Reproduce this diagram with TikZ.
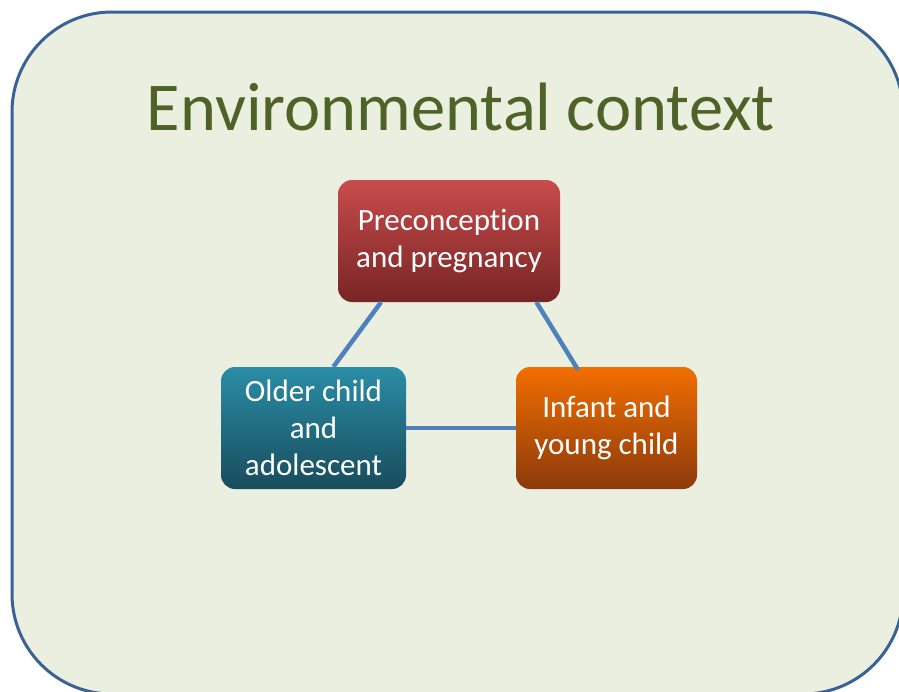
\documentclass[tikz,border=0pt]{standalone}
\usepackage{fontspec}
\setmainfont{Carlito}[Ligatures=NoCommon]
\usetikzlibrary{positioning}
\definecolor{bgc}{HTML}{EBEFDF}
\definecolor{framec}{HTML}{3A6296}
\definecolor{titlec}{HTML}{4F6228}
\definecolor{linkc}{HTML}{4F81BD}
\definecolor{redtop}{HTML}{C94C4C}
\definecolor{redbot}{HTML}{782424}
\definecolor{tealtop}{HTML}{2A8DA6}
\definecolor{tealbot}{HTML}{184C5C}
\definecolor{orgtop}{HTML}{F26E00}
\definecolor{orgbot}{HTML}{8C3A0C}

\begin{document}
\begin{tikzpicture}[x=1pt,y=-1pt,
  stagebox/.style={rounded corners=14pt,minimum height=122pt,inner sep=0pt,text=white,align=center,font=\fontsize{31}{37}\selectfont},
  link/.style={linkc,line width=4.5pt}]
  \useasboundingbox (0,0) rectangle (899,691);
  \clip (0,0) rectangle (899,691);
  \draw[framec,line width=3pt,fill=bgc,rounded corners=100pt] (12,12) rectangle (903,694);
  \node[titlec,anchor=base,font=\fontsize{68.5}{72}\selectfont] (title) at (461,130) {Environmental context};
  \node[stagebox,minimum width=222pt,top color=redtop,bottom color=redbot] (pregnancy) at (449,241) {Preconception\\and pregnancy};
  \node[stagebox,minimum width=185pt,top color=tealtop,bottom color=tealbot] (older) at (313.5,428) {Older child\\and\\adolescent};
  \node[stagebox,minimum width=181pt,top color=orgtop,bottom color=orgbot] (infant) at (606.5,428) {Infant and\\young child};
  \draw[link] (pregnancy.-138) -- (older.72);
  \draw[link] (pregnancy.-35) -- ([yshift=-3pt]infant.115);
  \draw[link] (older.east) -- (infant.west);
\end{tikzpicture}
\end{document}
